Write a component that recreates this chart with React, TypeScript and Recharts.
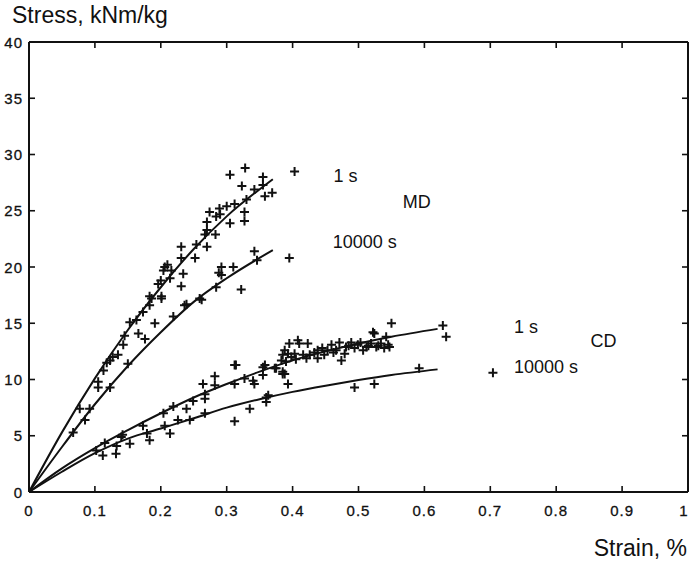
import React from 'react';
import { ComposedChart, Line, Scatter, XAxis, YAxis, ReferenceDot } from 'recharts';

// axis ticks
const xTicks = [0, 0.1, 0.2, 0.3, 0.4, 0.5, 0.6, 0.7, 0.8, 0.9, 1];
const yTicks = [0, 5, 10, 15, 20, 25, 30, 35, 40];

// fitted curves (strain %, stress kNm/kg)
const md1sFit = [
  { x: 0, y: 0 }, { x: 0.05, y: 5.3 }, { x: 0.1, y: 10.1 }, { x: 0.15, y: 14.4 },
  { x: 0.2, y: 18.2 }, { x: 0.25, y: 21.6 }, { x: 0.3, y: 24.5 }, { x: 0.37, y: 27.8 },
];
const md10000sFit = [
  { x: 0, y: 0 }, { x: 0.05, y: 4.0 }, { x: 0.1, y: 7.8 }, { x: 0.15, y: 11.2 },
  { x: 0.2, y: 14.2 }, { x: 0.25, y: 16.9 }, { x: 0.3, y: 19.0 }, { x: 0.37, y: 21.5 },
];
const cd1sFit = [
  { x: 0, y: 0 }, { x: 0.05, y: 2.1 }, { x: 0.1, y: 3.9 }, { x: 0.15, y: 5.5 },
  { x: 0.2, y: 7.0 }, { x: 0.25, y: 8.4 }, { x: 0.3, y: 9.6 }, { x: 0.35, y: 10.7 },
  { x: 0.4, y: 11.7 }, { x: 0.45, y: 12.5 }, { x: 0.5, y: 13.2 }, { x: 0.55, y: 13.8 },
  { x: 0.62, y: 14.5 },
];
const cd10000sFit = [
  { x: 0, y: 0 }, { x: 0.05, y: 1.8 }, { x: 0.1, y: 3.45 }, { x: 0.15, y: 4.75 },
  { x: 0.2, y: 5.65 }, { x: 0.25, y: 6.55 }, { x: 0.3, y: 7.5 }, { x: 0.35, y: 8.25 },
  { x: 0.4, y: 8.9 }, { x: 0.45, y: 9.45 }, { x: 0.5, y: 9.95 }, { x: 0.55, y: 10.4 },
  { x: 0.62, y: 10.9 },
];

// measured points
const md1sPoints = [
  [0.305, 28.2], [0.328, 28.8], [0.355, 28.0], [0.323, 27.2], [0.355, 27.3], [0.342, 26.9],
  [0.358, 26.3], [0.369, 26.6], [0.33, 26.0], [0.327, 24.9], [0.327, 24.1], [0.305, 23.9],
  [0.312, 25.6], [0.3, 25.4], [0.289, 25.2], [0.284, 24.5], [0.274, 24.9], [0.27, 24.0],
  [0.27, 23.3], [0.267, 22.9], [0.283, 22.9], [0.27, 21.8], [0.254, 22.0], [0.231, 21.8],
  [0.231, 20.8], [0.252, 20.8], [0.234, 19.4], [0.231, 18.3], [0.204, 19.7], [0.216, 19.7],
  [0.206, 20.0], [0.214, 19.0], [0.183, 17.4], [0.201, 17.4], [0.201, 17.2], [0.186, 17.2],
  [0.183, 16.6], [0.173, 16.0], [0.163, 15.3], [0.153, 15.1], [0.191, 15.0], [0.166, 14.1],
  [0.176, 13.6], [0.145, 13.9], [0.143, 13.1], [0.135, 12.2], [0.123, 11.7], [0.113, 10.8],
  [0.105, 9.8], [0.105, 9.3], [0.077, 7.4], [0.403, 28.5], [0.2, 18.8], [0.196, 18.5],
  [0.21, 20.2], [0.118, 11.5], [0.127, 12.0], [0.29, 24.7],
].map(([x, y]) => ({ x, y }));

const md10000sPoints = [
  [0.395, 20.8], [0.342, 21.4], [0.346, 20.6], [0.292, 20.0], [0.31, 20.0], [0.292, 19.3],
  [0.284, 18.2], [0.322, 18.0], [0.259, 17.2], [0.262, 17.1], [0.219, 15.6], [0.236, 16.6],
  [0.15, 11.4], [0.123, 9.3], [0.067, 5.3], [0.085, 6.4], [0.092, 7.4], [0.239, 16.7],
  [0.288, 19.5],
].map(([x, y]) => ({ x, y }));

const cd1sPoints = [
  [0.102, 3.7], [0.115, 4.35], [0.133, 4.1], [0.14, 4.9], [0.142, 5.1], [0.173, 5.9],
  [0.204, 7.0], [0.206, 5.9], [0.219, 7.6], [0.239, 7.4], [0.249, 8.1], [0.264, 9.6],
  [0.267, 8.7], [0.267, 8.3], [0.282, 10.3], [0.282, 9.5], [0.312, 11.3], [0.312, 9.6],
  [0.327, 10.1], [0.34, 9.9], [0.342, 9.6], [0.355, 11.1], [0.355, 10.4], [0.375, 11.0],
  [0.385, 10.5], [0.39, 11.6], [0.393, 9.6], [0.388, 10.5], [0.358, 11.3], [0.373, 11.0],
  [0.385, 10.7], [0.383, 11.7], [0.388, 12.6], [0.385, 12.2], [0.393, 12.3], [0.395, 13.2],
  [0.408, 13.5], [0.41, 13.2], [0.423, 13.2], [0.403, 12.3], [0.416, 12.2], [0.426, 12.2],
  [0.421, 11.9], [0.438, 11.9], [0.438, 12.6], [0.448, 12.2], [0.453, 12.6], [0.459, 13.1],
  [0.466, 12.6], [0.471, 13.3], [0.474, 11.7], [0.479, 12.3], [0.481, 12.9], [0.489, 13.3],
  [0.494, 12.8], [0.499, 13.1], [0.507, 12.6], [0.512, 12.9], [0.519, 13.2], [0.524, 14.1],
  [0.527, 12.9], [0.534, 13.2], [0.539, 12.8], [0.542, 13.8], [0.547, 12.9], [0.55, 15.0],
  [0.522, 14.2], [0.628, 14.8], [0.633, 13.8], [0.314, 11.3], [0.445, 12.8], [0.462, 12.4],
  [0.485, 13.0], [0.503, 13.3], [0.515, 13.0], [0.53, 13.0], [0.545, 13.1], [0.433, 12.4],
  [0.398, 12.0], [0.405, 11.8],
].map(([x, y]) => ({ x, y }));

const cd10000sPoints = [
  [0.112, 3.25], [0.132, 3.4], [0.153, 4.3], [0.183, 4.6], [0.214, 5.2], [0.179, 5.2],
  [0.226, 6.4], [0.244, 6.4], [0.267, 7.0], [0.312, 6.3], [0.335, 7.4], [0.36, 8.0],
  [0.36, 8.4], [0.363, 8.6], [0.494, 9.3], [0.524, 9.6], [0.592, 11.0], [0.704, 10.6],
].map(([x, y]) => ({ x, y }));

// curve labels
const annotations = [
  { x: 0.462, y: 27.57, text: '1 s' },
  { x: 0.567, y: 25.26, text: 'MD' },
  { x: 0.461, y: 21.7, text: '10000 s' },
  { x: 0.736, y: 14.12, text: '1 s' },
  { x: 0.852, y: 12.87, text: 'CD' },
  { x: 0.736, y: 10.56, text: '10000 s' },
];

const FONT = '"Liberation Sans", Arial, Helvetica, sans-serif';
const INK = '#111';

const Plus = (props: any) => {
  const { cx, cy } = props;
  if (cx == null || cy == null) return null;
  return (
    <path
      d={`M${cx - 4.5},${cy}H${cx + 4.5}M${cx},${cy - 4.5}V${cy + 4.5}`}
      stroke={INK}
      strokeWidth={2}
      fill="none"
    />
  );
};

const LeftTick = ({ x, y, payload }: any) => (
  <g>
    <line x1={x} x2={x + 6} y1={y} y2={y} stroke={INK} strokeWidth={1.6} />
    <text x={x - 6} y={y + 5.5} textAnchor="end" fontSize={15} letterSpacing={1} fill={INK} stroke={INK} strokeWidth={0.3} fontFamily={FONT}>
      {String(payload.value)}
    </text>
  </g>
);

const BottomTick = ({ x, y, payload }: any) => (
  <g>
    <line x1={x} x2={x} y1={y} y2={y - 6} stroke={INK} strokeWidth={1.6} />
    <text x={Math.min(x, 684)} y={y + 24} textAnchor="middle" fontSize={15} letterSpacing={1} fill={INK} stroke={INK} strokeWidth={0.3} fontFamily={FONT}>
      {String(payload.value)}
    </text>
  </g>
);

const TopTick = ({ x, y }: any) => (
  <line x1={x} x2={x} y1={y} y2={y + 6} stroke={INK} strokeWidth={1.6} />
);

const RightTick = ({ x, y }: any) => (
  <line x1={x} x2={x - 6} y1={y} y2={y} stroke={INK} strokeWidth={1.6} />
);

const axisLine = { stroke: INK, strokeWidth: 2 };

export default function App() {
  return (
    <div style={{ position: 'absolute', left: 0, top: 0, width: 691, height: 564, background: '#fff', fontFamily: FONT }}>
      <ComposedChart width={691} height={564} margin={{ top: 41, right: 2, bottom: 0, left: 0 }}>
        <XAxis
          dataKey="x"
          type="number"
          domain={[0, 1]}
          ticks={xTicks}
          interval={0}
          height={72}
          tickSize={0}
          tickMargin={0}
          tickLine={false}
          axisLine={axisLine}
          tick={<BottomTick />}
        />
        <XAxis
          xAxisId="top"
          dataKey="x"
          orientation="top"
          type="number"
          domain={[0, 1]}
          ticks={xTicks}
          interval={0}
          height={1}
          tickSize={0}
          tickMargin={0}
          tickLine={false}
          axisLine={axisLine}
          tick={<TopTick />}
        />
        <YAxis
          dataKey="y"
          type="number"
          domain={[0, 40]}
          ticks={yTicks}
          interval={0}
          width={29}
          tickSize={0}
          tickMargin={0}
          tickLine={false}
          axisLine={axisLine}
          tick={<LeftTick />}
        />
        <YAxis
          yAxisId="right"
          dataKey="y"
          orientation="right"
          type="number"
          domain={[0, 40]}
          ticks={yTicks}
          interval={0}
          width={1}
          tickSize={0}
          tickMargin={0}
          tickLine={false}
          axisLine={axisLine}
          tick={<RightTick />}
        />

        <Line data={md1sFit} dataKey="y" type="monotone" stroke={INK} strokeWidth={2} dot={false} isAnimationActive={false} />
        <Line data={md10000sFit} dataKey="y" type="monotone" stroke={INK} strokeWidth={2} dot={false} isAnimationActive={false} />
        <Line data={cd1sFit} dataKey="y" type="monotone" stroke={INK} strokeWidth={2} dot={false} isAnimationActive={false} />
        <Line data={cd10000sFit} dataKey="y" type="monotone" stroke={INK} strokeWidth={2} dot={false} isAnimationActive={false} />

        <Scatter data={md1sPoints} dataKey="y" shape={<Plus />} isAnimationActive={false} />
        <Scatter data={md10000sPoints} dataKey="y" shape={<Plus />} isAnimationActive={false} />
        <Scatter data={cd1sPoints} dataKey="y" shape={<Plus />} isAnimationActive={false} />
        <Scatter data={cd10000sPoints} dataKey="y" shape={<Plus />} isAnimationActive={false} />

        {/* invisible series so the frame axes get a domain */}
        <Line data={md1sFit} dataKey="y" xAxisId="top" yAxisId="right" stroke="none" dot={false} isAnimationActive={false} />

        {annotations.map((a) => (
          <ReferenceDot
            key={a.text + a.x}
            x={a.x}
            y={a.y}
            r={0}
            ifOverflow="visible"
            shape={(p: any) => (
              <text x={p.cx} y={p.cy} fontSize={18} fill={INK} fontFamily={FONT}>
                {a.text}
              </text>
            )}
          />
        ))}
      </ComposedChart>
      <svg width={691} height={564} style={{ position: 'absolute', left: 0, top: 0, pointerEvents: 'none' }}>
        <text x={12} y={23} fontSize={23} fill={INK} fontFamily={FONT}>
          Stress, kNm/kg
        </text>
        <text x={687} y={556} textAnchor="end" fontSize={23} fill={INK} fontFamily={FONT}>
          Strain, %
        </text>
      </svg>
    </div>
  );
}
